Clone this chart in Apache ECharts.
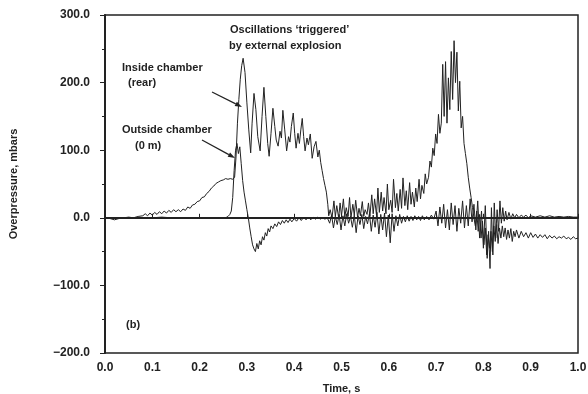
<!DOCTYPE html>
<html>
<head>
<meta charset="utf-8">
<script src="https://cdn.jsdelivr.net/npm/echarts@6/dist/echarts.min.js"></script>
<style>
  html, body { margin: 0; padding: 0; background: #fff; }
  #view { width: 588px; height: 394px; }
</style>
</head>
<body>
<div id="view"></div>
<script>
// pressure traces: [time s, overpressure mbar]
var insideChamber = [
  [0.000, 0], [0.010, -1], [0.020, -3], [0.030, -1], [0.040, 0], [0.050, 1], [0.060, 0], [0.070, 2],
  [0.080, 3], [0.085, 6], [0.090, 3], [0.095, 7], [0.100, 4], [0.105, 8], [0.110, 5], [0.115, 9],
  [0.120, 6], [0.125, 10], [0.130, 7], [0.135, 11], [0.140, 8], [0.145, 12], [0.150, 9], [0.155, 12],
  [0.160, 9], [0.165, 13], [0.170, 11], [0.175, 16], [0.180, 14], [0.185, 19], [0.190, 20], [0.195, 24],
  [0.200, 25], [0.205, 30], [0.210, 31], [0.215, 36], [0.220, 39], [0.225, 44], [0.230, 47], [0.235, 51],
  [0.240, 53], [0.245, 55], [0.250, 56], [0.255, 58], [0.260, 57], [0.265, 58], [0.270, 57], [0.274, 60],
  [0.277, 90], [0.280, 140], [0.283, 175], [0.286, 205], [0.289, 225], [0.292, 236], [0.296, 215],
  [0.300, 170], [0.304, 130], [0.308, 96], [0.311, 140], [0.315, 184], [0.319, 160], [0.323, 120],
  [0.328, 99], [0.332, 150], [0.336, 193], [0.340, 150], [0.344, 110], [0.347, 91], [0.351, 125],
  [0.355, 162], [0.359, 135], [0.362, 115], [0.366, 106], [0.370, 128], [0.373, 118], [0.376, 159],
  [0.380, 130], [0.384, 99], [0.388, 120], [0.391, 112], [0.394, 135], [0.398, 155], [0.401, 125],
  [0.404, 103], [0.408, 125], [0.411, 110], [0.414, 130], [0.417, 147], [0.420, 120], [0.423, 99],
  [0.427, 118], [0.430, 108], [0.434, 124], [0.438, 88], [0.442, 105], [0.446, 113], [0.450, 90],
  [0.453, 100], [0.456, 82], [0.459, 70], [0.462, 58], [0.465, 48], [0.468, 38], [0.471, 20], [0.473, 3],
  [0.476, 12], [0.480, 0], [0.484, 25], [0.487, 2], [0.490, 18], [0.494, 0], [0.497, 22], [0.500, 3],
  [0.504, 28], [0.507, 1], [0.510, 15], [0.514, 2], [0.517, 30], [0.520, 0], [0.524, 20], [0.527, 4],
  [0.530, 26], [0.534, 1], [0.537, 14], [0.540, 3], [0.544, 24], [0.547, 2], [0.550, 12], [0.554, 5],
  [0.557, 22], [0.560, 2], [0.564, 34], [0.567, 6], [0.570, 28], [0.574, 4], [0.577, 44], [0.580, 8],
  [0.584, 38], [0.587, 10], [0.590, 30], [0.594, 6], [0.597, 50], [0.600, 12], [0.604, 26], [0.607, 8],
  [0.610, 57], [0.614, 15], [0.617, 36], [0.620, 10], [0.624, 42], [0.627, 14], [0.630, 59], [0.634, 18],
  [0.637, 40], [0.640, 12], [0.644, 52], [0.647, 20], [0.650, 38], [0.654, 16], [0.657, 44], [0.660, 24],
  [0.664, 57], [0.667, 28], [0.670, 48], [0.674, 36], [0.677, 65], [0.680, 50], [0.684, 60], [0.687, 84],
  [0.690, 75], [0.693, 103], [0.696, 92], [0.699, 124], [0.702, 110], [0.705, 153], [0.708, 125],
  [0.711, 140], [0.714, 227], [0.717, 150], [0.720, 231], [0.723, 140], [0.726, 207], [0.729, 160],
  [0.732, 246], [0.735, 175], [0.738, 262], [0.741, 200], [0.744, 245], [0.747, 158], [0.750, 202],
  [0.753, 133], [0.756, 150], [0.759, 110], [0.762, 95], [0.765, 80], [0.768, 60], [0.771, 44],
  [0.774, 30], [0.777, 15], [0.780, 0], [0.783, -12], [0.786, 10], [0.789, -20], [0.792, 5], [0.795, -30],
  [0.798, -5], [0.801, -40], [0.804, -15], [0.807, -55], [0.810, -25], [0.813, -45], [0.816, -20],
  [0.819, -50], [0.822, -12], [0.825, -35], [0.828, -10], [0.831, -38], [0.834, -15], [0.837, -30],
  [0.840, -12], [0.843, -28], [0.846, -15], [0.849, -32], [0.852, -18], [0.855, -30], [0.858, -16],
  [0.861, -35], [0.864, -20], [0.867, -28], [0.870, -18], [0.875, -30], [0.880, -20], [0.885, -28],
  [0.890, -22], [0.895, -30], [0.900, -22], [0.905, -29], [0.910, -24], [0.915, -30], [0.920, -25],
  [0.925, -29], [0.930, -25], [0.935, -31], [0.940, -26], [0.945, -30], [0.950, -27], [0.955, -31],
  [0.960, -28], [0.965, -30], [0.970, -27], [0.975, -31], [0.980, -29], [0.985, -32], [0.990, -28],
  [0.995, -31], [1.000, -30]
];

var outsideChamber = [
  [0.000, 0], [0.020, -1], [0.040, 0], [0.060, -1], [0.080, 0], [0.100, 0], [0.120, 1], [0.140, 0],
  [0.160, 0], [0.180, -1], [0.200, -1], [0.220, -1], [0.240, -1], [0.255, 0], [0.260, 2], [0.264, 5],
  [0.267, 10], [0.270, 30], [0.273, 70], [0.276, 100], [0.279, 110], [0.282, 95], [0.285, 105],
  [0.288, 80], [0.291, 55], [0.294, 38], [0.297, 25], [0.300, 12], [0.303, 0], [0.306, -15], [0.309, -28],
  [0.312, -40], [0.315, -46], [0.318, -50], [0.321, -38], [0.324, -46], [0.327, -34], [0.330, -40],
  [0.333, -28], [0.336, -33], [0.339, -22], [0.342, -27], [0.345, -16], [0.348, -21], [0.351, -12],
  [0.355, -16], [0.359, -9], [0.363, -13], [0.367, -6], [0.371, -10], [0.375, -4], [0.379, -8],
  [0.383, -3], [0.387, -7], [0.391, -2], [0.395, -6], [0.400, -1], [0.405, -5], [0.410, 0], [0.415, -4],
  [0.420, 1], [0.425, -3], [0.430, 1], [0.435, -3], [0.440, 1], [0.445, -2], [0.450, 1], [0.455, -2],
  [0.460, 0], [0.465, -2], [0.470, 0], [0.475, -8], [0.479, 4], [0.483, -15], [0.487, 2], [0.491, -10],
  [0.495, 5], [0.499, -18], [0.503, 3], [0.507, -12], [0.511, 6], [0.515, -8], [0.519, 2], [0.523, -14],
  [0.527, 4], [0.531, -22], [0.535, 3], [0.539, -10], [0.543, 5], [0.547, -16], [0.551, 2], [0.555, -9],
  [0.559, 6], [0.563, -20], [0.567, 4], [0.571, -14], [0.575, 8], [0.579, -24], [0.583, 5], [0.587, -18],
  [0.591, 7], [0.595, -28], [0.599, 4], [0.603, -37], [0.607, 6], [0.611, -20], [0.615, 3], [0.619, -12],
  [0.623, 5], [0.627, -8], [0.631, 2], [0.635, -6], [0.639, 3], [0.643, -5], [0.647, 2], [0.651, -4],
  [0.655, 3], [0.659, -3], [0.663, 2], [0.667, -4], [0.671, 3], [0.675, -3], [0.680, 2], [0.685, -3],
  [0.690, 4], [0.695, -2], [0.700, 10], [0.704, -12], [0.708, 16], [0.712, -8], [0.716, 20], [0.720, -15],
  [0.724, 12], [0.728, -18], [0.732, 22], [0.736, -10], [0.740, 18], [0.744, -20], [0.748, 14],
  [0.752, -8], [0.756, 25], [0.760, -15], [0.764, 18], [0.768, -12], [0.772, 28], [0.776, -6],
  [0.780, 20], [0.784, -18], [0.788, 25], [0.792, -30], [0.796, 10], [0.800, -45], [0.804, 18],
  [0.808, -60], [0.811, -20], [0.814, -75], [0.817, 15], [0.820, -55], [0.823, 22], [0.826, -30],
  [0.829, 12], [0.832, -20], [0.835, 25], [0.838, -8], [0.841, 15], [0.844, -5], [0.847, 10], [0.850, -3],
  [0.854, 8], [0.858, -2], [0.862, 6], [0.866, 0], [0.870, 5], [0.875, 0], [0.880, 4], [0.885, 1],
  [0.890, 4], [0.895, 0], [0.900, 3], [0.910, 1], [0.920, 3], [0.930, 1], [0.940, 3], [0.950, 1],
  [0.960, 2], [0.970, 1], [0.980, 2], [0.990, 1], [1.000, 1]
];

var ink = '#222';
var font = 'Liberation Sans, Arial, sans-serif';

function arrow(x1, y1, x2, y2) {
  var a = Math.atan2(y2 - y1, x2 - x1), L = 7, w = 2.5;
  var bx = x2 - L * Math.cos(a), by = y2 - L * Math.sin(a);
  return [{
    type: 'line', shape: { x1: x1, y1: y1, x2: bx, y2: by },
    style: { stroke: ink, lineWidth: 1.2 }
  }, {
    type: 'polygon',
    shape: { points: [[x2, y2], [bx - w * Math.sin(a), by + w * Math.cos(a)], [bx + w * Math.sin(a), by - w * Math.cos(a)]] },
    style: { fill: ink }
  }];
}

function label(x, y, s) {
  return { type: 'text', x: x, y: y, style: { text: s, fill: ink, font: 'bold 11px ' + font, verticalAlign: 'middle' } };
}

var myChart = echarts.init(document.getElementById('view'));

option = {
  animation: false,
  backgroundColor: '#fff',
  grid: {
    left: 105, right: 10, top: 15, bottom: 41, outerBoundsMode: 'none',
    show: true, borderColor: ink, borderWidth: 1.5
  },
  xAxis: {
    type: 'value', min: 0, max: 1, interval: 0.1,
    name: 'Time, s', nameLocation: 'middle', nameGap: 30,
    nameTextStyle: { color: ink, fontSize: 11, fontWeight: 'bold', fontFamily: font },
    axisLine: { lineStyle: { color: ink, width: 2 } },
    axisTick: { inside: true, length: 4, lineStyle: { color: ink } },
    splitLine: { show: false },
    axisLabel: {
      color: ink, fontSize: 12, fontWeight: 'bold', fontFamily: font, margin: 9,
      formatter: function (v) { return v.toFixed(1); }
    }
  },
  yAxis: {
    type: 'value', min: -200, max: 300, interval: 100,
    name: 'Overpressure, mbars', nameLocation: 'middle', nameGap: 86,
    nameTextStyle: { color: ink, fontSize: 11, fontWeight: 'bold', fontFamily: font },
    axisLine: { show: true, lineStyle: { color: ink, width: 2 } },
    axisTick: { show: true, length: 5, lineStyle: { color: ink } },
    minorTick: { show: true, splitNumber: 2, length: 3, lineStyle: { color: ink } },
    splitLine: { show: false },
    axisLabel: {
      color: ink, fontSize: 12, fontWeight: 'bold', fontFamily: font, margin: 15,
      formatter: function (v) { return (v < 0 ? '\u2212' : '') + Math.abs(v).toFixed(1); }
    }
  },
  series: [{
    name: 'Inside chamber (rear)', type: 'line', data: insideChamber,
    showSymbol: false, lineStyle: { color: ink, width: 1 }, z: 3
  }, {
    name: 'Outside chamber (0 m)', type: 'line', data: outsideChamber,
    showSymbol: false, lineStyle: { color: ink, width: 1 }, z: 2
  }],
  graphic: [
    label(230, 30, "Oscillations \u2018triggered\u2019"),
    label(229, 46, 'by external explosion'),
    label(122, 68, 'Inside chamber'),
    label(128, 83, '(rear)'),
    label(122, 130, 'Outside chamber'),
    label(135, 146, '(0 m)'),
    label(126, 325, '(b)')
  ].concat(arrow(212, 92, 242, 107), arrow(202, 140, 235, 158))
};

myChart.setOption(option);
</script>
</body>
</html>
